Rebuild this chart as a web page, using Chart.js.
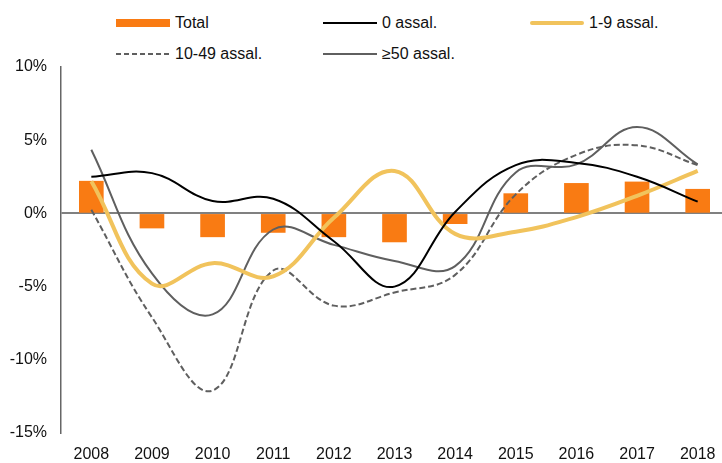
<!DOCTYPE html>
<html>
<head>
<meta charset="utf-8">
<script src="https://cdn.jsdelivr.net/npm/chart.js@4.4.1/dist/chart.umd.min.js"></script>
<style>
  html, body { margin: 0; padding: 0; background: #fff; overflow: hidden; }
  body { width: 722px; height: 463px; position: relative; font-family: 'Liberation Sans', Arial, sans-serif; }
  #wrap { position: absolute; left: 0; top: 0; width: 728px; height: 463px; }
  #legend { position: absolute; left: 116px; top: 13px; width: 621px; display: grid;
            grid-template-columns: 207px 207px 207px; grid-auto-rows: 31px; font-size: 16px; color: #111; }
  .item { display: flex; align-items: center; height: 20px; white-space: nowrap; }
  .swatch { width: 54px; margin-right: 5px; flex: none; }
</style>
</head>
<body>
<div id="legend"></div>
<div id="wrap"><canvas id="chart"></canvas></div>
<script>
// ── Data (annual change, %) ──
const years     = ['2008', '2009', '2010', '2011', '2012', '2013', '2014', '2015', '2016', '2017', '2018'];
const total     = [2.2, -1.0, -1.6, -1.3, -1.6, -1.95, -0.7, 1.35, 2.05, 2.15, 1.65];
const assal0    = [2.5, 2.75, 0.85, 1.0, -1.9, -5.0, 0.1, 3.3, 3.45, 2.5, 0.8];
const assal1_9  = [2.2, -4.8, -3.4, -4.3, -0.3, 2.9, -1.4, -1.25, -0.25, 1.2, 2.9];
const assal10_49 = [0.25, -7.1, -12.1, -3.9, -6.3, -5.4, -4.2, 1.3, 4.0, 4.65, 3.3];
const assal50   = [4.35, -4.1, -6.9, -1.1, -2.15, -3.25, -3.6, 2.8, 3.35, 5.9, 3.35];
const yTicks    = [10, 5, 0, -5, -10, -15];

const ORANGE = '#F97B13';
const YELLOW = '#F1C35C';
const GREY   = '#5f5f5f';
const FONT   = "'Liberation Sans', Arial, sans-serif";

Chart.defaults.font.family = FONT;
Chart.defaults.font.size = 16;
Chart.defaults.color = '#111';

function lineSet(label, data, color, width, dash, order) {
  return {
    type: 'line',
    label,
    data,
    borderColor: color,
    backgroundColor: color,
    borderWidth: width,
    borderDash: dash,
    pointRadius: 0,
    tension: 0.4,
    fill: false,
    order
  };
}

const datasets = [
  { type: 'bar', label: 'Total', data: total, backgroundColor: ORANGE, barThickness: 24, order: 10 },
  lineSet('0 assal.', assal0, '#000', 2, [], 1),
  lineSet('1-9 assal.', assal1_9, YELLOW, 4, [], 2),
  lineSet('10-49 assal.', assal10_49, GREY, 2, [6, 3], 3),
  lineSet('\u226550 assal.', assal50, GREY, 2, [], 4)
];

// ── HTML legend, three fixed columns ──
const legendEl = document.getElementById('legend');
datasets.forEach(ds => {
  const item = document.createElement('div');
  item.className = 'item';
  const sw = document.createElement('div');
  sw.className = 'swatch';
  if (ds.type === 'bar') {
    sw.style.height = '8px';
    sw.style.background = ds.backgroundColor;
  } else if (ds.borderDash.length) {
    sw.style.height = ds.borderWidth + 'px';
    sw.style.background = 'repeating-linear-gradient(to right,' + ds.borderColor + ' 0 5px, transparent 5px 8px)';
  } else {
    sw.style.height = ds.borderWidth + 'px';
    sw.style.background = ds.borderColor;
    if (ds.borderWidth > 2) sw.style.borderRadius = '2px';
  }
  item.appendChild(sw);
  const txt = document.createElement('span');
  txt.textContent = ds.label;
  item.appendChild(txt);
  legendEl.appendChild(item);
});

new Chart(document.getElementById('chart'), {
  data: { labels: years, datasets },
  options: {
    responsive: true,
    maintainAspectRatio: false,
    animation: false,
    layout: { padding: { top: 67, left: 0, right: 0, bottom: 0 } },
    plugins: { legend: { display: false }, tooltip: { enabled: false } },
    scales: {
      x: {
        offset: true,
        grid: { display: false, drawTicks: false },
        border: { display: false },
        afterFit: s => { s.height = 30; },
        ticks: { padding: 12, color: '#111', maxRotation: 0 }
      },
      y: {
        min: -15,
        max: 10,
        afterBuildTicks: s => { s.ticks = yTicks.map(v => ({ value: v })); },
        afterFit: s => { s.width = 61; },
        border: { display: true, color: '#666', width: 1.5 },
        grid: {
          drawTicks: false,
          color: c => (c.tick && c.tick.value === 0 ? '#808080' : 'transparent'),
          lineWidth: 2
        },
        ticks: { padding: 14, color: '#111', callback: v => v + '%' }
      }
    }
  }
});
</script>
</body>
</html>
